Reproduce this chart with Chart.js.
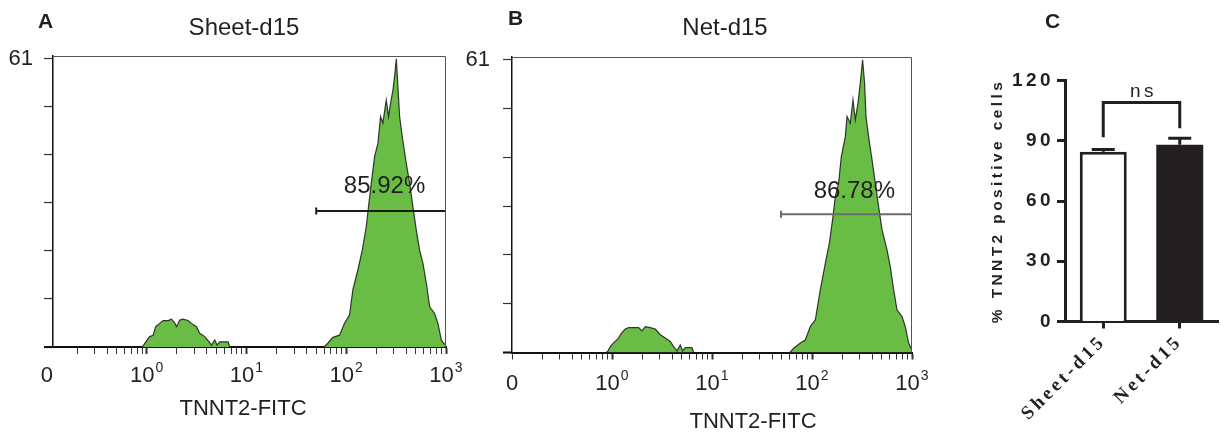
<!DOCTYPE html>
<html>
<head>
<meta charset="utf-8">
<script src="https://cdn.jsdelivr.net/npm/chart.js@4.4.0/dist/chart.umd.min.js"></script>
<style>
  body { margin: 0; background: #fff; width: 1222px; height: 432px; overflow: hidden; position: relative; }
  canvas { position: absolute; top: 0; }
  #histA { left: 0; }
  #histB { left: 460px; }
  #barC { left: 940px; }
</style>
</head>
<body>
<canvas id="histA" width="472" height="432"></canvas>
<canvas id="histB" width="480" height="432"></canvas>
<canvas id="barC" width="282" height="432"></canvas>
<script>
// axis labels of the flow histograms
var decadeTicks = [0.1, 1, 10, 100, 1000];
var decadeBase = ['0', '10', '10', '10', '10'];
var decadeExp = ['', '0', '1', '2', '3'];
var countTicks = [0, 10.17, 20.33, 30.5, 40.67, 50.83, 61];

// histogram A (Sheet-d15): FITC intensity vs count
var sheetX = [0.12, 0.9, 0.93, 0.98, 1.07, 1.16, 1.23, 1.35, 1.46, 1.64,
  1.77, 1.91, 1.99, 2.14, 2.31, 2.6, 2.81, 3.15, 3.4, 3.82,
  4.22, 4.46, 4.81, 5.07, 5.4, 6.54, 6.8, 60, 65.3, 73.5,
  85.7, 96.1, 108, 116.5, 130.7, 144.8, 158.8, 168.7, 178.3, 192.4,
  207.6, 220.8, 232.8, 251.8, 265.6, 278, 293.8, 305.5, 317.5, 329.6,
  342.8, 364.6, 399.6, 431.5, 465.6, 503.5, 543.3, 587.5, 635.3, 685.5,
  769.1, 829.8, 897.5, 946.2, 990, 1000];
var sheetCount = [0, 0, 0.4, 1.1, 2.2, 2.5, 4.3, 5.0, 5.6, 5.6,
  5.9, 5.1, 4.3, 5.7, 5.9, 5.6, 5.0, 4.3, 2.9, 2.2,
  1.1, 0.4, 1.5, 0.4, 1.1, 1.1, 0, 0, 0.8, 2.05,
  2.5, 5.0, 6.8, 12.1, 16.3, 20.5, 25.5, 30.4, 34.7, 40.3,
  43.1, 48.8, 47.4, 52.3, 48.8, 51.6, 54.4, 57.3, 61, 55.1,
  48.8, 44.5, 38.9, 34.7, 29.7, 24.8, 20.5, 17.7, 13.5, 8.5,
  7.1, 5.0, 1.5, 0.8, 0.5, 14.9];

// histogram B (Net-d15)
var netX = [0.1, 0.88, 0.912, 0.962, 1.037, 1.164, 1.239, 1.358, 1.466, 1.845,
  1.995, 2.153, 2.415, 2.71, 3.041, 3.412, 3.828, 4.13, 4.467, 4.819,
  5.08, 5.41, 6.31, 6.55, 60, 65.5, 76.4, 85.7, 96.2, 108,
  121.1, 135.9, 149, 160.7, 171, 184.5, 196.3, 215.3, 223.9, 241.6,
  257, 271, 288.4, 304, 320.6, 335.7, 346.7, 368.1, 398.1, 429.5,
  463.4, 501.2, 562.3, 606.7, 655, 708, 794, 857, 925, 961,
  990, 1000];
var netCount = [0, 0, 0.35, 1.25, 2.0, 3.0, 4.0, 4.9, 5.2, 5.2,
  4.5, 5.4, 5.2, 4.9, 3.7, 3.0, 2.3, 1.25, 0.35, 1.6,
  0.35, 1.0, 1.0, 0, 0, 0.9, 2.0, 2.6, 5.4, 6.8,
  13.1, 18.6, 22.8, 27.7, 32.5, 35.3, 40.8, 45.0, 49.2, 47.8,
  52.7, 48.5, 52.0, 56.1, 61, 56.1, 49.2, 45.0, 40.2, 35.3,
  30.4, 25.6, 21.4, 17.9, 13.1, 8.9, 7.5, 5.4, 2.0, 1.25,
  0.6, 14.5];

// positive gates
var gateStart = [50, 49];
var gateEnd = 1000;
var gateLevel = [28.8, 28.8];
var gatePct = ['85.92%', '86.78%'];
var gateTextX = [242, 265];
var gateTextY = [32.6, 32.2];

// panel C
var groups = ['Sheet-d15', 'Net-d15'];
var meanPct = [84.5, 88.0];
var sdPct = [1.2, 3.2];
var bracketAt = ['Sheet-d15', 'Sheet-d15', 'Net-d15', 'Net-d15'];
var bracketY = [91.7, 109, 109, 96.2];
var nsY = 112;

var SANS = '"Liberation Sans", Arial, sans-serif';
var INK = '#231f20';
Chart.defaults.font.family = SANS;
Chart.defaults.color = INK;

function logTicks(min) {
  var t = [];
  for (var d = -1; d < 3; d++) {
    for (var k = 1; k < 10; k++) {
      var v = k * Math.pow(10, d);
      if (v >= min - 1e-9) t.push({ value: v, major: k === 1 && d >= 0 });
    }
  }
  t.push({ value: 1000, major: true });
  return t;
}

var histText = {
  id: 'histText',
  afterDraw: function (chart, args, o) {
    var ctx = chart.ctx, a = chart.chartArea, x = chart.scales.x, y = chart.scales.y;
    ctx.save();
    // thin frame top/right
    ctx.strokeStyle = '#555';
    ctx.lineWidth = 1;
    ctx.beginPath();
    ctx.moveTo(a.left, a.top + 0.5);
    ctx.lineTo(a.right - 0.5, a.top + 0.5);
    ctx.lineTo(a.right - 0.5, a.bottom);
    ctx.stroke();
    ctx.strokeStyle = '#111';
    ctx.lineWidth = 2;
    ctx.beginPath();
    ctx.moveTo(a.left - 9, a.bottom);
    ctx.lineTo(a.left, a.bottom);
    ctx.stroke();

    ctx.fillStyle = INK;
    ctx.textBaseline = 'alphabetic';
    ctx.textAlign = 'left';
    decadeTicks.forEach(function (v, i) {
      ctx.font = '22px ' + SANS;
      var wb = ctx.measureText(decadeBase[i]).width;
      ctx.font = '14px ' + SANS;
      var we = decadeExp[i] ? ctx.measureText(decadeExp[i]).width + 1 : 0;
      var left = x.getPixelForValue(v) - (wb + we) / 2;
      ctx.font = '22px ' + SANS;
      ctx.fillText(decadeBase[i], left, o.labelBase);
      ctx.font = '14px ' + SANS;
      ctx.fillText(decadeExp[i], left + wb + 1, o.labelBase - 10);
    });

    ctx.textAlign = 'center';
    ctx.font = '22px ' + SANS;
    ctx.fillText('TNNT2-FITC', o.xTitleX, o.xTitleY);
    ctx.font = '24px ' + SANS;
    ctx.fillText(o.title, o.titleX, 35);
    ctx.fillText(gatePct[o.idx], x.getPixelForValue(gateTextX[o.idx]), y.getPixelForValue(gateTextY[o.idx]));
    ctx.textAlign = 'left';
    ctx.font = 'bold 21px ' + SANS;
    ctx.fillText(o.letter, o.letterX, o.letterY);
    ctx.restore();
  }
};

function histChart(id, xs, counts, idx, p) {
  var pts = xs.map(function (v, i) { return { x: v, y: counts[i] }; });
  return new Chart(document.getElementById(id), {
    type: 'line',
    data: {
      datasets: [{
        data: [{ x: gateStart[idx], y: gateLevel[idx] }, { x: gateEnd, y: gateLevel[idx] }],
        borderColor: p.gateColor,
        borderWidth: 2,
        pointStyle: 'line',
        pointRotation: 90,
        pointRadius: [3.5, 0],
        pointBorderColor: p.gateColor,
        pointBorderWidth: 2,
        fill: false
      }, {
        data: pts,
        borderColor: 'rgba(25,25,25,0.85)',
        borderWidth: 1.2,
        backgroundColor: '#69bd45',
        pointRadius: 0,
        tension: 0,
        fill: 'origin'
      }]
    },
    options: {
      responsive: false,
      animation: false,
      devicePixelRatio: 1,
      layout: { padding: { left: 0, right: p.padRight, top: p.top, bottom: 0 } },
      plugins: {
        legend: { display: false },
        tooltip: { enabled: false },
        histText: p
      },
      scales: {
        x: {
          type: 'logarithmic',
          min: p.xMin,
          max: 1000,
          afterBuildTicks: function (s) { s.ticks = logTicks(p.xMin); },
          afterFit: function (s) { s.height = p.xHeight; },
          ticks: { display: false, autoSkip: false },
          grid: {
            drawOnChartArea: false,
            tickLength: 7,
            tickColor: '#333',
            tickWidth: function (c) { return c.tick && c.tick.major ? 2 : 1; }
          },
          border: { color: '#111', width: 2 }
        },
        y: {
          min: 0,
          max: 61.6,
          afterBuildTicks: function (s) { s.ticks = countTicks.map(function (v) { return { value: v }; }); },
          afterFit: function (s) { s.width = p.yWidth; },
          ticks: {
            autoSkip: false,
            padding: p.yPad,
            font: { size: 22 },
            callback: function (v) { return v === 61 ? '61' : ''; }
          },
          grid: { drawOnChartArea: false, tickLength: 9, tickColor: '#333', tickWidth: 1.2 },
          border: { color: '#111', width: 1.5 }
        }
      }
    },
    plugins: [histText]
  });
}

histChart('histA', sheetX, sheetCount, 0, {
  idx: 0, letter: 'A', letterX: 38, letterY: 28, title: 'Sheet-d15', titleX: 244,
  xTitleX: 243, xTitleY: 415, labelBase: 381.5, gateColor: '#1a1a1a',
  xMin: 0.1149, padRight: 26, top: 56, xHeight: 85, yWidth: 53, yPad: 11
});
histChart('histB', netX, netCount, 1, {
  idx: 1, letter: 'B', letterX: 48, letterY: 25, title: 'Net-d15', titleX: 265,
  xTitleX: 293, xTitleY: 428, labelBase: 390, gateColor: '#6b6b6b',
  xMin: 0.1, padRight: 28, top: 57, xHeight: 79.5, yWidth: 52, yPad: 13
});

// panel C: mean % TNNT2+ with SD and ns bracket
var barText = {
  id: 'barText',
  beforeUpdate: function (chart) { chart.ctx.letterSpacing = '3.4px'; },
  beforeDraw: function (chart) { chart.ctx.letterSpacing = '3.4px'; },
  afterDatasetsDraw: function (chart) {
    var ctx = chart.ctx, y = chart.scales.y;
    var meta = chart.getDatasetMeta(1);
    ctx.save();
    ctx.strokeStyle = INK;
    ctx.lineWidth = 3;
    meta.data.forEach(function (bar, i) {
      var top = y.getPixelForValue(meanPct[i] + sdPct[i]);
      ctx.beginPath();
      ctx.moveTo(bar.x, bar.y);
      ctx.lineTo(bar.x, top);
      ctx.moveTo(bar.x - 11.5, top);
      ctx.lineTo(bar.x + 11.5, top);
      ctx.stroke();
    });
    ctx.restore();
  },
  afterDraw: function (chart) {
    var ctx = chart.ctx, a = chart.chartArea, x = chart.scales.x, y = chart.scales.y;
    ctx.save();
    ctx.strokeStyle = INK;
    ctx.lineWidth = 3;
    ctx.beginPath();
    ctx.moveTo(a.left - 8, a.bottom);
    ctx.lineTo(a.left, a.bottom);
    ctx.stroke();
    ctx.fillStyle = INK;
    ctx.textAlign = 'center';
    ctx.textBaseline = 'alphabetic';
    ctx.font = '19px ' + SANS;
    var cx = (x.getPixelForValue(0) + x.getPixelForValue(1)) / 2;
    ctx.fillText('ns', cx + 2, y.getPixelForValue(nsY));
    ctx.letterSpacing = '0px';
    ctx.textAlign = 'left';
    ctx.font = 'bold 21px ' + SANS;
    ctx.fillText('C', 105, 28);
    ctx.restore();
  }
};

new Chart(document.getElementById('barC'), {
  type: 'bar',
  data: {
    labels: groups,
    datasets: [{
      type: 'line',
      data: bracketAt.map(function (g, i) { return { x: g, y: bracketY[i] }; }),
      borderColor: INK,
      borderWidth: 3,
      borderJoinStyle: 'miter',
      borderCapStyle: 'butt',
      pointRadius: 0,
      fill: false
    }, {
      data: meanPct,
      backgroundColor: ['#ffffff', INK],
      borderColor: INK,
      borderWidth: [3, 0],
      barPercentage: 0.614,
      categoryPercentage: 1
    }]
  },
  options: {
    responsive: false,
    animation: false,
    devicePixelRatio: 1,
    layout: { padding: { left: 0, right: 4, top: 80.5, bottom: 0 } },
    plugins: { legend: { display: false }, tooltip: { enabled: false } },
    scales: {
      x: {
        afterFit: function (s) { s.height = 110.5; },
        ticks: {
          minRotation: 45,
          maxRotation: 45,
          padding: 2,
          color: INK,
          font: { family: '"Liberation Serif", "Times New Roman", serif', weight: 'bold', size: 19 }
        },
        grid: { offset: false, drawOnChartArea: false, tickLength: 7, tickWidth: 3, tickColor: INK },
        border: { color: INK, width: 3 }
      },
      y: {
        min: 0,
        max: 120,
        afterFit: function (s) { s.width = 125; },
        ticks: { stepSize: 30, padding: 3, color: INK, font: { weight: 'bold', size: 19 } },
        grid: { drawOnChartArea: false, tickLength: 8, tickWidth: 3, tickColor: INK },
        border: { color: INK, width: 3 },
        title: {
          display: true,
          text: '% TNNT2 positive cells',
          color: INK,
          font: { weight: 'bold', size: 15.5 },
          padding: { top: 48, bottom: 0 }
        }
      }
    }
  },
  plugins: [barText]
});
</script>
</body>
</html>
